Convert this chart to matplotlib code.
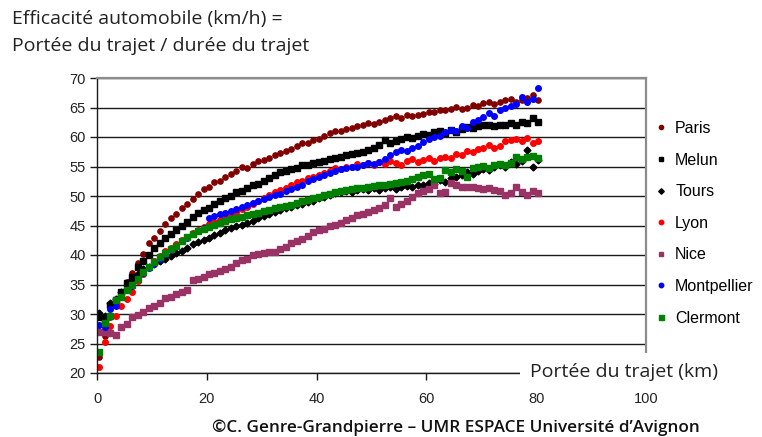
"""Efficacité automobile selon la portée du trajet, 7 villes (nuages de points)."""
import matplotlib
matplotlib.use("Agg")
import matplotlib.pyplot as plt
import numpy as np

plt.rcParams["font.family"] = ["Liberation Sans", "DejaVu Sans"]

# portée du trajet (km), un point par km
dist = np.arange(0.4, 81, 1.0)

paris = [22.7, 26.3, 29.5, 31.6, 33.6, 35.4, 36.9, 38.6, 40.2, 42.1,
         42.8, 44.0, 45.3, 46.2, 47.0, 48.0, 48.6, 49.5, 50.3, 51.2,
         51.6, 52.3, 52.6, 53.3, 53.8, 54.2, 54.9, 54.8, 55.4, 55.9,
         56.1, 56.4, 57.0, 57.3, 57.6, 58.0, 58.4, 58.9, 59.0, 59.5,
         59.7, 60.2, 60.6, 61.1, 61.0, 61.4, 61.6, 61.8, 62.0, 62.3,
         62.2, 62.6, 62.9, 63.2, 63.5, 63.3, 63.8, 63.5, 63.7, 63.9,
         64.2, 64.3, 64.6, 64.5, 64.8, 65.1, 64.7, 65.0, 65.4, 65.2,
         65.7, 65.9, 65.6, 66.0, 66.2, 66.4, 65.9, 66.3, 66.6, 67.1,
         66.3]
melun = [29.5, 29.0, 31.6, 32.3, 33.8, 35.3, 36.2, 38.0, 38.9, 40.0,
         41.2, 42.0, 42.8, 43.6, 44.3, 44.9, 45.6, 46.5, 47.2, 47.6,
         48.0, 48.7, 49.1, 49.6, 50.0, 50.6, 50.9, 51.3, 51.8, 52.1,
         52.5, 53.0, 53.6, 54.0, 54.3, 54.5, 54.7, 55.2, 55.3, 55.6,
         55.8, 56.0, 56.2, 56.4, 56.6, 56.9, 57.1, 57.3, 57.5, 57.8,
         58.1, 58.7, 59.5, 58.9, 59.3, 59.7, 60.0, 59.8, 60.2, 60.5,
         60.3, 60.8, 61.0, 60.6, 61.2, 60.8, 61.4, 61.7, 61.5, 61.9,
         62.1, 62.0, 61.8, 62.1, 62.0, 62.3, 62.1, 62.6, 62.3, 63.2,
         62.5]
tours = [30.2, 29.6, 31.9, 32.5, 33.8, 34.9, 36.0, 36.8, 37.6, 38.0,
         38.4, 38.9, 39.3, 39.8, 40.4, 40.7, 41.2, 41.8, 42.2, 42.6,
         42.9, 43.4, 43.8, 44.2, 44.6, 44.9, 45.1, 45.5, 45.7, 46.2,
         46.6, 47.0, 47.3, 47.6, 47.9, 48.2, 48.4, 48.7, 48.9, 49.2,
         49.6, 49.9, 50.2, 50.5, 50.6, 50.8, 50.7, 51.0, 51.2, 51.0,
         51.3, 51.1, 51.4, 51.6, 51.2, 51.5, 51.7, 51.5, 51.9, 51.8,
         52.2, 52.0, 52.7, 52.4, 53.0, 53.3, 53.6, 54.0, 53.7, 54.2,
         54.6, 54.4, 54.9, 55.2, 55.0, 55.8, 55.5, 56.0, 57.8, 55.0,
         56.1]
lyon = [21.1, 25.3, 28.0, 29.6, 31.4, 32.6, 33.8, 35.6, 36.8, 37.9,
        38.9, 39.8, 40.6, 41.2, 41.9, 42.5, 43.1, 43.7, 44.2, 44.8,
        45.2, 45.6, 46.0, 46.4, 46.9, 47.3, 47.8, 48.2, 48.6, 49.2,
        49.7, 50.2, 50.6, 51.0, 51.3, 51.8, 52.3, 52.6, 53.0, 53.3,
        53.5, 53.9, 54.3, 54.7, 54.5, 54.9, 55.0, 55.4, 55.2, 55.6,
        55.3, 55.7, 55.5, 55.9, 55.6, 55.3, 55.9, 56.2, 55.8, 56.1,
        56.4, 56.0, 56.4, 56.6, 56.4, 57.2, 57.0, 57.6, 57.4, 58.0,
        58.2, 58.6, 58.1, 58.4, 59.4, 59.5, 59.6, 59.3, 59.8, 59.0,
        59.4]
nice = [27.0, 26.9, 26.8, 26.5, 27.8, 28.3, 29.5, 29.9, 30.4, 31.0,
        31.4, 31.9, 32.7, 32.9, 33.4, 33.8, 34.0, 35.8, 36.0, 36.3,
        36.8, 37.0, 37.3, 37.6, 38.0, 38.6, 39.2, 39.4, 40.0, 40.2,
        40.3, 40.5, 40.5, 41.0, 41.3, 42.0, 42.3, 42.7, 43.2, 43.9,
        44.3, 44.4, 45.0, 45.1, 45.5, 45.9, 46.2, 46.8, 47.0, 47.3,
        47.6, 48.0, 48.5, 49.7, 48.1, 48.6, 49.2, 49.9, 50.5, 50.8,
        51.2, 51.9, 50.5, 50.7, 52.2, 51.8, 51.6, 51.5, 51.6, 51.3,
        51.2, 51.4, 51.1, 50.9, 50.2, 50.5, 51.6, 50.6, 50.2, 50.8,
        50.5]
montpellier = [28.2, 27.8, 30.8, 31.4, 32.8, 34.1, 34.8, 35.9, 37.0, 37.8,
               38.5, 39.3, 40.2, 40.9, 41.6, 42.3, 42.9, 43.5, 44.0, 44.6,
               46.3, 46.6, 46.9, 47.2, 47.4, 47.8, 48.2, 48.5, 48.8, 49.2,
               49.5, 49.8, 50.1, 50.4, 50.8, 51.2, 51.5, 51.9, 52.5, 52.8,
               53.2, 53.5, 53.9, 54.3, 54.6, 54.7, 54.9, 55.0, 55.3, 55.6,
               55.4, 55.8, 56.2, 57.0, 57.5, 57.8, 57.6, 58.1, 58.4, 59.2,
               59.6, 60.0, 60.2, 60.8, 61.2, 61.0, 61.9, 61.6, 62.5, 62.9,
               63.4, 64.0, 63.6, 64.5, 65.0, 65.3, 65.6, 66.8, 66.0, 66.5,
               68.3]
clermont = [23.6, 28.5, 29.6, 32.3, 32.9, 34.0, 35.0, 36.0, 37.2, 37.9,
            38.8, 39.6, 40.4, 41.0, 41.6, 42.3, 43.0, 43.5, 44.0, 44.4,
            44.8, 45.1, 45.5, 45.8, 46.1, 46.3, 46.5, 46.8, 47.0, 47.2,
            47.5, 47.7, 47.9, 48.1, 48.3, 48.5, 48.8, 49.1, 49.3, 49.6,
            49.8, 50.1, 50.4, 50.6, 50.8, 51.0, 51.2, 51.3, 51.4, 51.5,
            51.7, 51.8, 51.9, 52.0, 52.2, 52.4, 52.6, 52.9, 53.2, 53.5,
            53.8, 52.8, 53.1, 54.4, 54.0, 54.5, 54.3, 53.2, 54.7, 55.0,
            55.1, 54.8, 55.3, 55.5, 55.2, 55.6, 56.6, 56.2, 56.6, 56.8,
            56.4]

# (nom, valeurs, couleur, marqueur, taille)
series = [
    ("Paris", paris, "#800000", "o", 3.8),
    ("Melun", melun, "#000000", "s", 4.3),
    ("Tours", tours, "#000000", "D", 3.5),
    ("Lyon", lyon, "#ff0000", "o", 4.0),
    ("Nice", nice, "#993366", "s", 4.3),
    ("Montpellier", montpellier, "#0000ff", "o", 4.0),
    ("Clermont", clermont, "#008000", "s", 4.5),
]

fig = plt.figure(figsize=(7.62, 4.37), dpi=100)
ax = fig.add_axes([97 / 762, 1 - 373 / 437, 549 / 762, 295 / 437])

for name, vals, col, mk, ms in series:
    ax.plot(dist, vals, ls="none", marker=mk, ms=ms, color=col, mec=col, label=name)

ax.set_xlim(0, 100)
ax.set_ylim(20, 70)
ax.set_xticks(range(0, 101, 20))
ax.set_yticks(range(20, 71, 5))
ax.grid(axis="y", color="#1a1a1a", lw=1.0)
ax.set_axisbelow(True)
for s in ("top", "right"):
    ax.spines[s].set_color("#8c8c8c")
    ax.spines[s].set_linewidth(1.6)
for s in ("left", "bottom"):
    ax.spines[s].set_color("#1a1a1a")
    ax.spines[s].set_linewidth(1.0)
ax.tick_params(direction="out", length=5, width=1, color="#1a1a1a",
               labelsize=10.5, labelcolor="#222222")
ax.tick_params(axis="x", pad=9)
ax.tick_params(axis="y", pad=3)

ax.legend(loc="upper left", bbox_to_anchor=(656 / 762, 1 - 121 / 437),
          bbox_transform=fig.transFigure, frameon=False, fontsize=11.5,
          labelspacing=1.04, handlelength=0.6, handletextpad=0.6,
          borderpad=0, borderaxespad=0, markerscale=0.8)

txt = ["Open Sans", "DejaVu Sans"]
fig.text(12 / 762, 1 - 19 / 437, "Efficacité automobile (km/h) =",
         family=txt, fontsize=14, va="center", color="#222222")
fig.text(12 / 762, 1 - 46 / 437, "Portée du trajet / durée du trajet",
         family=txt, fontsize=14, va="center", color="#222222")
fig.text(530 / 762, 1 - 372 / 437, "Portée du trajet (km)", family=txt,
         fontsize=14, va="center", color="#222222", zorder=5,
         bbox=dict(facecolor="white", edgecolor="none", pad=7))
fig.text(456 / 762, 1 - 428 / 437,
         "©C. Genre-Grandpierre – UMR ESPACE Université d’Avignon",
         family=txt, fontsize=12.3, ha="center", va="center",
         weight="semibold", color="#111111")

fig.savefig("out.png", dpi=100)
